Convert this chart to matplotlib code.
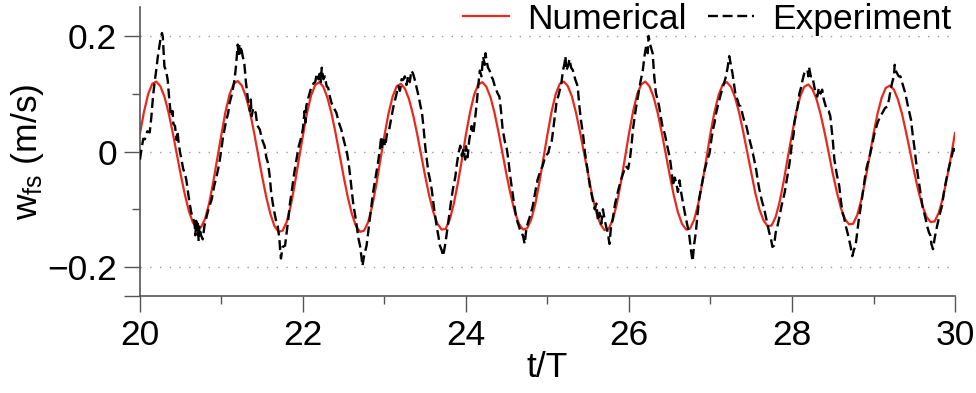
import numpy as np
import matplotlib.pyplot as plt
from matplotlib.ticker import FixedLocator

plt.rcParams['font.family'] = ['Liberation Sans', 'DejaVu Sans']
plt.rcParams['mathtext.fontset'] = 'custom'
plt.rcParams['mathtext.rm'] = 'Liberation Sans'
plt.rcParams['mathtext.it'] = 'Liberation Sans'

# Numerical solution, sampled every 0.05 T from t/T = 20 to 30
num_w = [
    0.031, 0.069, 0.099, 0.117, 0.121, 0.113, 0.095, 0.068, 0.034, -0.003,
    -0.040, -0.074, -0.103, -0.123, -0.133, -0.131, -0.116, -0.089, -0.052, -0.011,
    0.030, 0.069, 0.099, 0.117, 0.122, 0.114, 0.095, 0.068, 0.033, -0.005,
    -0.044, -0.079, -0.108, -0.129, -0.139, -0.137, -0.122, -0.094, -0.056, -0.013,
    0.028, 0.067, 0.097, 0.115, 0.120, 0.112, 0.093, 0.066, 0.032, -0.006,
    -0.044, -0.079, -0.108, -0.129, -0.139, -0.137, -0.122, -0.094, -0.057, -0.014,
    0.028, 0.066, 0.095, 0.113, 0.117, 0.109, 0.091, 0.064, 0.031, -0.006,
    -0.043, -0.077, -0.105, -0.125, -0.135, -0.134, -0.118, -0.091, -0.055, -0.014,
    0.030, 0.068, 0.098, 0.116, 0.120, 0.112, 0.094, 0.067, 0.033, -0.004,
    -0.042, -0.076, -0.105, -0.125, -0.135, -0.133, -0.118, -0.091, -0.054, -0.012,
    0.030, 0.069, 0.099, 0.117, 0.121, 0.113, 0.095, 0.067, 0.033, -0.004,
    -0.042, -0.077, -0.106, -0.126, -0.136, -0.134, -0.119, -0.091, -0.054, -0.012,
    0.031, 0.069, 0.099, 0.116, 0.121, 0.113, 0.095, 0.068, 0.034, -0.004,
    -0.041, -0.076, -0.105, -0.125, -0.135, -0.133, -0.118, -0.090, -0.054, -0.012,
    0.032, 0.069, 0.098, 0.116, 0.120, 0.112, 0.094, 0.068, 0.035, -0.001,
    -0.038, -0.072, -0.100, -0.119, -0.129, -0.128, -0.113, -0.086, -0.050, -0.009,
    0.030, 0.067, 0.095, 0.112, 0.116, 0.108, 0.091, 0.065, 0.033, -0.002,
    -0.038, -0.070, -0.098, -0.117, -0.126, -0.125, -0.110, -0.084, -0.049, -0.010,
    0.031, 0.066, 0.093, 0.110, 0.114, 0.107, 0.090, 0.065, 0.033, -0.001,
    -0.036, -0.068, -0.094, -0.113, -0.122, -0.121, -0.106, -0.081, -0.047, -0.009,
    0.032,
]
num_t = np.linspace(20, 30, len(num_w))

# Experiment
exp_t = [
    20.00, 20.02, 20.04, 20.06, 20.09, 20.12, 20.14, 20.16, 20.18, 20.20, 20.22, 20.25, 20.27, 20.28,
    20.30, 20.32, 20.34, 20.36, 20.38, 20.40, 20.41, 20.43, 20.45, 20.46, 20.47, 20.49, 20.51, 20.53,
    20.55, 20.57, 20.59, 20.61, 20.63, 20.65, 20.67, 20.68, 20.69, 20.70, 20.71, 20.72, 20.73, 20.75,
    20.77, 20.79, 20.81, 20.84, 20.88, 20.91, 20.94, 20.96, 20.98, 21.00, 21.02, 21.04, 21.06, 21.08,
    21.10, 21.13, 21.16, 21.18, 21.20, 21.21, 21.22, 21.23, 21.24, 21.26, 21.28, 21.30, 21.33, 21.35,
    21.36, 21.37, 21.39, 21.42, 21.44, 21.47, 21.50, 21.53, 21.55, 21.57, 21.59, 21.61, 21.63, 21.65,
    21.67, 21.69, 21.71, 21.72, 21.73, 21.75, 21.78, 21.80, 21.82, 21.84, 21.86, 21.89, 21.92, 21.95,
    21.98,
    22.00, 22.02, 22.03, 22.04, 22.06, 22.08, 22.10, 22.13, 22.15, 22.17, 22.19, 22.21, 22.22, 22.23,
    22.25, 22.27, 22.29, 22.31, 22.33, 22.35, 22.38, 22.41, 22.44, 22.47, 22.50, 22.54, 22.56, 22.58,
    22.60, 22.62, 22.64, 22.66, 22.68, 22.70, 22.72, 22.73, 22.75, 22.78, 22.80, 22.82, 22.84, 22.86,
    22.89, 22.92, 22.94, 22.96, 22.97, 22.99, 23.01, 23.03, 23.05, 23.08, 23.11, 23.14, 23.17, 23.19,
    23.21, 23.23, 23.25, 23.27, 23.29, 23.31, 23.33, 23.35, 23.37, 23.39, 23.42, 23.44, 23.46, 23.48,
    23.50, 23.52, 23.54, 23.56, 23.58, 23.61, 23.64, 23.66, 23.68, 23.70, 23.72, 23.74, 23.76, 23.79,
    23.82, 23.84, 23.87, 23.89, 23.91, 23.93, 23.95, 23.97, 23.99,
    24.00, 24.02, 24.04, 24.07, 24.09, 24.11, 24.13, 24.15, 24.17, 24.19, 24.21, 24.23, 24.24, 24.25,
    24.27, 24.29, 24.31, 24.33, 24.35, 24.37, 24.39, 24.41, 24.43, 24.45, 24.48, 24.50, 24.52, 24.54,
    24.56, 24.59, 24.62, 24.64, 24.66, 24.68, 24.70, 24.72, 24.74, 24.76, 24.79, 24.82, 24.85, 24.88,
    24.91, 24.94, 24.97, 25.01, 25.03, 25.05, 25.08, 25.11, 25.14, 25.17, 25.19, 25.21, 25.22, 25.23,
    25.25, 25.27, 25.29, 25.31, 25.34, 25.37, 25.39, 25.41, 25.44, 25.46, 25.49, 25.52, 25.55, 25.58,
    25.60, 25.62, 25.64, 25.66, 25.68, 25.70, 25.72, 25.74, 25.76, 25.78, 25.80, 25.83, 25.87, 25.90,
    25.93, 25.96, 25.99,
    26.01, 26.03, 26.05, 26.08, 26.11, 26.14, 26.17, 26.19, 26.21, 26.23, 26.24, 26.26, 26.29, 26.31,
    26.33, 26.35, 26.37, 26.39, 26.41, 26.44, 26.47, 26.50, 26.52, 26.54, 26.56, 26.58, 26.60, 26.62,
    26.64, 26.67, 26.70, 26.72, 26.74, 26.76, 26.78, 26.80, 26.82, 26.84, 26.86, 26.89, 26.92, 26.95,
    26.99, 27.01, 27.03, 27.05, 27.07, 27.10, 27.13, 27.16, 27.19, 27.21, 27.23, 27.25, 27.27, 27.29,
    27.31, 27.33, 27.35, 27.37, 27.40, 27.42, 27.44, 27.47, 27.50, 27.53, 27.56, 27.58, 27.60, 27.63,
    27.66, 27.69, 27.72, 27.74, 27.76, 27.78, 27.80, 27.82, 27.84, 27.87, 27.91, 27.94, 27.97,
    28.00, 28.02, 28.03, 28.05, 28.07, 28.09, 28.11, 28.13, 28.15, 28.17, 28.19, 28.20, 28.21, 28.23,
    28.25, 28.27, 28.29, 28.31, 28.33, 28.35, 28.37, 28.39, 28.41, 28.43, 28.45, 28.47, 28.50, 28.52,
    28.55, 28.58, 28.60, 28.62, 28.64, 28.66, 28.68, 28.70, 28.72, 28.74, 28.76, 28.78, 28.80, 28.82,
    28.85, 28.88, 28.90, 28.92, 28.95, 28.98, 29.01, 29.05, 29.08, 29.11, 29.14, 29.17, 29.19, 29.21,
    29.23, 29.25, 29.26, 29.27, 29.29, 29.31, 29.33, 29.36, 29.39, 29.42, 29.46, 29.48, 29.50, 29.52,
    29.54, 29.57, 29.60, 29.62, 29.64, 29.66, 29.68, 29.70, 29.71, 29.73, 29.75, 29.78, 29.81, 29.84,
    29.87, 29.91, 29.94, 29.97, 29.99, 30.00,
]
exp_w = [
    -0.014, 0.005, 0.022, 0.021, 0.035, 0.033, 0.060, 0.095, 0.120, 0.141, 0.165, 0.193, 0.205, 0.199,
    0.147, 0.140, 0.124, 0.090, 0.061, 0.070, 0.048, 0.044, 0.020, 0.035, 0.021, 0.000, -0.014, -0.030,
    -0.037, -0.050, -0.071, -0.090, -0.106, -0.115, -0.123, -0.145, -0.120, -0.140, -0.125, -0.155, -0.130, -0.145,
    -0.152, -0.130, -0.117, -0.100, -0.083, -0.060, -0.043, -0.030, -0.014, 0.005, 0.026, 0.040, 0.055, 0.065,
    0.084, 0.100, 0.124, 0.150, 0.185, 0.165, 0.185, 0.170, 0.182, 0.165, 0.153, 0.120, 0.084, 0.070,
    0.090, 0.061, 0.075, 0.067, 0.045, 0.038, 0.020, 0.009, -0.010, -0.020, -0.040, -0.071, -0.090, -0.106,
    -0.120, -0.129, -0.150, -0.170, -0.185, -0.165, -0.163, -0.140, -0.117, -0.090, -0.071, -0.040, -0.014, 0.010,
    0.025,
    0.040, 0.070, 0.050, 0.078, 0.090, 0.100, 0.110, 0.118, 0.120, 0.135, 0.125, 0.140, 0.120, 0.145,
    0.125, 0.130, 0.113, 0.110, 0.095, 0.084, 0.075, 0.067, 0.050, 0.038, 0.020, -0.002, -0.020, -0.043,
    -0.070, -0.094, -0.110, -0.129, -0.150, -0.163, -0.185, -0.198, -0.180, -0.163, -0.140, -0.117, -0.095, -0.071,
    -0.045, -0.020, 0.000, 0.026, 0.005, 0.020, 0.009, 0.030, 0.032, 0.055, 0.078, 0.095, 0.113, 0.105,
    0.125, 0.124, 0.130, 0.115, 0.130, 0.120, 0.140, 0.135, 0.125, 0.113, 0.095, 0.080, 0.067, 0.040,
    0.009, -0.015, -0.037, -0.050, -0.066, -0.100, -0.129, -0.145, -0.163, -0.170, -0.181, -0.165, -0.146, -0.115,
    -0.083, -0.065, -0.043, -0.020, -0.002, 0.010, -0.008, 0.005, -0.014,
    0.009, -0.010, 0.020, 0.044, 0.030, 0.055, 0.080, 0.113, 0.140, 0.130, 0.164, 0.150, 0.170, 0.159,
    0.145, 0.140, 0.130, 0.125, 0.115, 0.107, 0.100, 0.095, 0.070, 0.038, 0.015, 0.005, -0.014, -0.040,
    -0.060, -0.090, -0.117, -0.125, -0.134, -0.140, -0.146, -0.160, -0.135, -0.123, -0.110, -0.094, -0.070, -0.048,
    -0.035, -0.025, -0.010, -0.002, 0.010, 0.015, 0.050, 0.084, 0.100, 0.118, 0.140, 0.153, 0.165, 0.140,
    0.147, 0.160, 0.145, 0.141, 0.125, 0.113, 0.080, 0.055, 0.025, -0.002, -0.030, -0.060, -0.080, -0.100,
    -0.090, -0.120, -0.106, -0.125, -0.100, -0.117, -0.130, -0.140, -0.160, -0.130, -0.117, -0.090, -0.066, -0.050,
    -0.037, -0.025, -0.030,
    -0.015, 0.010, 0.040, 0.070, 0.095, 0.120, 0.141, 0.165, 0.182, 0.170, 0.200, 0.185, 0.170, 0.130,
    0.101, 0.090, 0.078, 0.060, 0.044, 0.030, 0.009, -0.010, -0.031, -0.060, -0.045, -0.054, -0.070, -0.050,
    -0.071, -0.095, -0.117, -0.130, -0.146, -0.170, -0.190, -0.160, -0.140, -0.110, -0.083, -0.060, -0.037, -0.020,
    -0.002, 0.020, 0.038, 0.050, 0.067, 0.085, 0.101, 0.115, 0.130, 0.145, 0.165, 0.150, 0.135, 0.115,
    0.095, 0.090, 0.080, 0.078, 0.060, 0.050, 0.044, 0.025, 0.009, -0.010, -0.031, -0.050, -0.066, -0.085,
    -0.100, -0.120, -0.140, -0.150, -0.165, -0.163, -0.140, -0.130, -0.117, -0.095, -0.071, -0.045, -0.020,
    0.015, 0.030, 0.050, 0.065, 0.078, 0.100, 0.110, 0.124, 0.135, 0.140, 0.141, 0.130, 0.145, 0.130,
    0.130, 0.115, 0.100, 0.095, 0.110, 0.100, 0.107, 0.090, 0.080, 0.072, 0.070, 0.061, 0.020, -0.014,
    -0.040, -0.060, -0.085, -0.106, -0.115, -0.129, -0.140, -0.152, -0.165, -0.181, -0.170, -0.163, -0.140, -0.117,
    -0.090, -0.060, -0.040, -0.025, -0.010, 0.009, 0.030, 0.050, 0.060, 0.067, 0.075, 0.078, 0.090, 0.107,
    0.120, 0.130, 0.150, 0.141, 0.135, 0.130, 0.130, 0.115, 0.101, 0.080, 0.055, 0.030, 0.009, -0.015,
    -0.037, -0.065, -0.094, -0.105, -0.117, -0.130, -0.140, -0.146, -0.160, -0.169, -0.150, -0.129, -0.110, -0.094,
    -0.065, -0.037, -0.020, -0.002, 0.010, 0.000,
]

x_major = [20, 22, 24, 26, 28, 30]
x_minor = [21, 23, 25, 27, 29]
y_major = [-0.25, -0.2, 0, 0.2]
y_major_labels = ['', '\u22120.2', '0', '0.2']
y_minor = [-0.1, 0.1]
grid_levels = [-0.2, 0, 0.2]

fig = plt.figure(figsize=(9.76, 3.93), dpi=100)
ax = fig.add_axes([0.1434, 0.2468, 0.8351, 0.7354])

for g in grid_levels:
    ax.axhline(g, color='#9a9a9a', lw=1.0, ls=(0, (1, 6)), zorder=0)

ax.plot(num_t, num_w, color='#e8291c', lw=1.6, label='Numerical', zorder=2)
ax.plot(exp_t, exp_w, color='black', lw=1.7, ls=(0, (4.2, 2.0)), label='Experiment', zorder=3)

ax.set_xlim(20, 30)
ax.set_ylim(-0.25, 0.25)
ax.spines['top'].set_visible(False)
ax.spines['right'].set_visible(False)
for s in ('left', 'bottom'):
    ax.spines[s].set_color('#555555')
    ax.spines[s].set_linewidth(1.2)

ax.xaxis.set_major_locator(FixedLocator(x_major))
ax.xaxis.set_minor_locator(FixedLocator(x_minor))
ax.yaxis.set_major_locator(FixedLocator(y_major))
ax.yaxis.set_minor_locator(FixedLocator(y_minor))
ax.set_yticklabels(y_major_labels)
ax.tick_params(which='major', length=11.5, width=1.0, color='#555555', labelsize=25.5, pad=5)
ax.tick_params(which='minor', length=5.8, width=1.0, color='#555555')

ax.set_xlabel('t/T', fontsize=25.5)
ax.set_ylabel(r'w$_{\mathrm{fs}}$ (m/s)', fontsize=25.5)
ax.yaxis.set_label_coords(-0.115, 0.5)
ax.xaxis.set_label_coords(0.5, -0.19)

ax.legend(loc='upper right', bbox_to_anchor=(0.995, 1.015), ncol=2, frameon=False, fontsize=25.5,
          handlelength=1.3, handletextpad=0.5, columnspacing=0.6, borderaxespad=0, borderpad=0)

fig.savefig('out.png', dpi=100)
